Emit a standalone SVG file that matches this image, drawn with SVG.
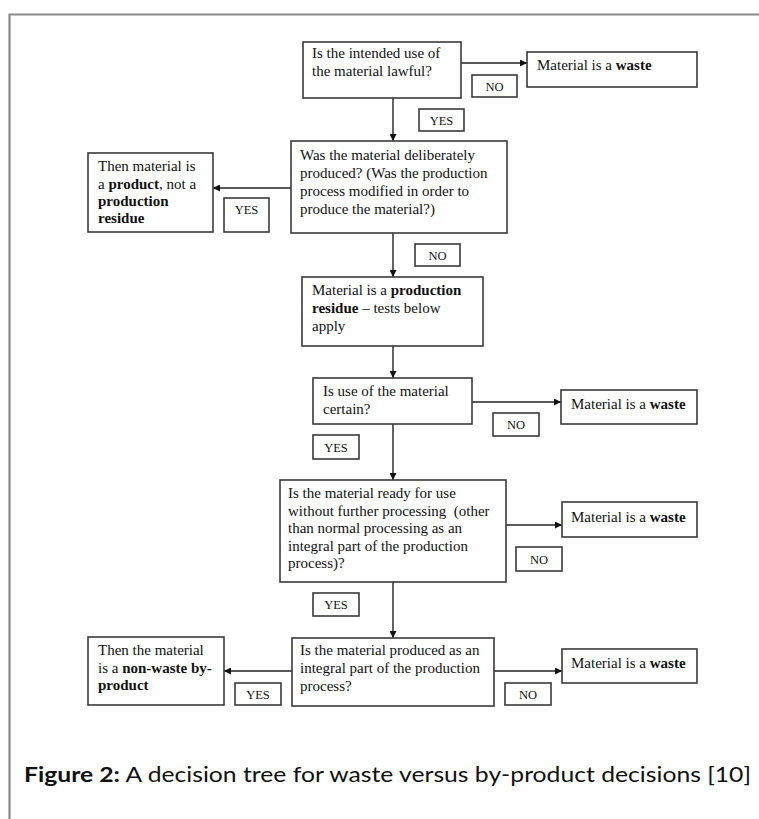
<svg xmlns="http://www.w3.org/2000/svg" width="759" height="819" viewBox="0 0 759 819">
<defs>
<style>
.box{fill:#fff;stroke:#3a3a3a;stroke-width:1.6}
.t{font-family:"Liberation Serif","Times New Roman",serif;font-size:15px;fill:#111}
.lbl{font-family:"Liberation Serif","Times New Roman",serif;font-size:12.5px;fill:#111;text-anchor:middle}
.b{font-weight:bold}
.conn{fill:none;stroke:#222;stroke-width:1.4}
.cap{font-family:Lato,"Open Sans",sans-serif;font-size:21px;fill:#111}
</style>
<marker id="ah" viewBox="0 0 10 10" refX="10" refY="5" markerWidth="7" markerHeight="7" markerUnits="userSpaceOnUse" orient="auto">
<path d="M0,0 L10,5 L0,10 z" fill="#111"/>
</marker>
</defs>
<rect width="759" height="819" fill="#fff"/>
<path d="M9.5,819 V14.5 H759" fill="none" stroke="#8a8a8a" stroke-width="2.2"/>

<g id="connectors">
<path class="conn" d="M461,63 H527" marker-end="url(#ah)"/>
<path class="conn" d="M393,98 V141" marker-end="url(#ah)"/>
<path class="conn" d="M291,188 H213" marker-end="url(#ah)"/>
<path class="conn" d="M393,233 V277" marker-end="url(#ah)"/>
<path class="conn" d="M393,346 V378" marker-end="url(#ah)"/>
<path class="conn" d="M472,402 H561" marker-end="url(#ah)"/>
<path class="conn" d="M393,424 V480" marker-end="url(#ah)"/>
<path class="conn" d="M506,525 H562" marker-end="url(#ah)"/>
<path class="conn" d="M393,582 V638" marker-end="url(#ah)"/>
<path class="conn" d="M292,671 H224" marker-end="url(#ah)"/>
<path class="conn" d="M494,671 H562" marker-end="url(#ah)"/>
</g>

<g id="q1">
<rect class="box" x="303" y="42" width="158" height="56"/>
<text class="t" x="312" y="58">Is the intended use of</text>
<text class="t" x="312" y="76">the material lawful?</text>
</g>
<g id="waste1">
<rect class="box" x="527" y="52" width="170" height="35"/>
<text class="t" x="537" y="70">Material is a <tspan class="b">waste</tspan></text>
</g>
<g id="no1">
<rect class="box" x="472" y="75" width="45" height="22"/>
<text class="lbl" x="494.5" y="90.5">NO</text>
</g>
<g id="yes1">
<rect class="box" x="419" y="109" width="45" height="22"/>
<text class="lbl" x="441.5" y="124.5">YES</text>
</g>

<g id="q2">
<rect class="box" x="291" y="141" width="216" height="92"/>
<text class="t" x="300" y="160">Was the material deliberately</text>
<text class="t" x="300" y="178">produced? (Was the production</text>
<text class="t" x="300" y="196">process modified in order to</text>
<text class="t" x="300" y="214">produce the material?)</text>
</g>
<g id="product">
<rect class="box" x="88" y="153" width="125" height="79"/>
<text class="t" x="98" y="171">Then material is</text>
<text class="t" x="98" y="189">a <tspan class="b">product</tspan>, not a</text>
<text class="t b" x="98" y="206">production</text>
<text class="t b" x="98" y="223">residue</text>
</g>
<g id="yes2">
<rect class="box" x="224" y="198" width="45" height="34"/>
<text class="lbl" x="246.5" y="214">YES</text>
</g>
<g id="no2">
<rect class="box" x="415" y="244" width="45" height="22"/>
<text class="lbl" x="437.5" y="259.5">NO</text>
</g>

<g id="residue">
<rect class="box" x="302" y="277" width="181" height="69"/>
<text class="t" x="312" y="295">Material is a <tspan class="b">production</tspan></text>
<text class="t" x="312" y="313"><tspan class="b">residue</tspan> – tests below</text>
<text class="t" x="312" y="331">apply</text>
</g>

<g id="q3">
<rect class="box" x="313" y="378" width="159" height="46"/>
<text class="t" x="323" y="396">Is use of the material</text>
<text class="t" x="323" y="414">certain?</text>
</g>
<g id="waste2">
<rect class="box" x="561" y="390" width="136" height="34"/>
<text class="t" x="571" y="409">Material is a <tspan class="b">waste</tspan></text>
</g>
<g id="no3">
<rect class="box" x="493" y="413" width="46" height="23"/>
<text class="lbl" x="516" y="429">NO</text>
</g>
<g id="yes3">
<rect class="box" x="313" y="435" width="46" height="24"/>
<text class="lbl" x="336" y="451.5">YES</text>
</g>

<g id="q4">
<rect class="box" x="280" y="480" width="226" height="102"/>
<text class="t" x="288" y="498">Is the material ready for use</text>
<text class="t" x="288" y="515.5" xml:space="preserve">without further processing  (other</text>
<text class="t" x="288" y="533">than normal processing as an</text>
<text class="t" x="288" y="550.5">integral part of the production</text>
<text class="t" x="288" y="568">process)?</text>
</g>
<g id="waste3">
<rect class="box" x="562" y="502" width="135" height="35"/>
<text class="t" x="571" y="522">Material is a <tspan class="b">waste</tspan></text>
</g>
<g id="no4">
<rect class="box" x="516" y="547" width="46" height="24"/>
<text class="lbl" x="539" y="563.5">NO</text>
</g>
<g id="yes4">
<rect class="box" x="313" y="593" width="46" height="23"/>
<text class="lbl" x="336" y="609">YES</text>
</g>

<g id="q5">
<rect class="box" x="292" y="638" width="202" height="68"/>
<text class="t" x="300" y="655">Is the material produced as an</text>
<text class="t" x="300" y="673">integral part of the production</text>
<text class="t" x="300" y="691">process?</text>
</g>
<g id="byproduct">
<rect class="box" x="88" y="637" width="136" height="68"/>
<text class="t" x="98" y="655">Then the material</text>
<text class="t" x="98" y="672.5">is a <tspan class="b">non-waste by-</tspan></text>
<text class="t b" x="98" y="690">product</text>
</g>
<g id="yes5">
<rect class="box" x="235" y="683" width="46" height="22"/>
<text class="lbl" x="258" y="698.5">YES</text>
</g>
<g id="waste4">
<rect class="box" x="562" y="649" width="135" height="34"/>
<text class="t" x="571" y="668">Material is a <tspan class="b">waste</tspan></text>
</g>
<g id="no5">
<rect class="box" x="505" y="683" width="46" height="22"/>
<text class="lbl" x="528" y="698.5">NO</text>
</g>

<text class="cap" x="24" y="782" textLength="727" lengthAdjust="spacingAndGlyphs"><tspan font-weight="bold">Figure 2:</tspan> A decision tree for waste versus by-product decisions [10]</text>
</svg>
